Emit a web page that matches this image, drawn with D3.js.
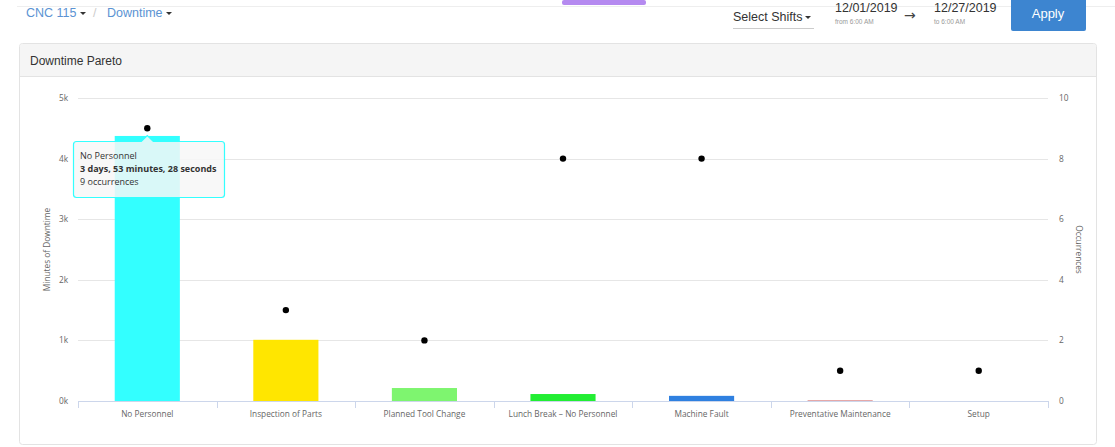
<!DOCTYPE html>
<meta charset="utf-8">
<html>
<head>
    <title>Downtime Pareto</title>
    <style>
        body { margin: 0; background: #fff; font-family: Roboto, "Liberation Sans", sans-serif; }
        svg { display: block; }
        svg text { font-family: "Open Sans", "DejaVu Sans", sans-serif; }
        .hdr { font-family: "Liberation Sans", Roboto, sans-serif !important; }
    </style>
    <script src="https://d3js.org/d3.v7.min.js"></script>
</head>
<body>
    <div id="chart-container"></div>
    <script>
        // chart data
        const categories = ["No Personnel", "Inspection of Parts", "Planned Tool Change",
            "Lunch Break \u2013 No Personnel", "Machine Fault", "Preventative Maintenance", "Setup"];
        const minutes = [4373.5, 1010, 214, 115, 85, 15, 0];
        const occurrences = [9, 3, 2, 8, 8, 1, 1];
        const barColors = ["#33ffff", "#ffe600", "#7ef56f", "#22ee33", "#2f80e0", "#e3a0a0", "#cccccc"];
        const leftTicks = [0, 1000, 2000, 3000, 4000, 5000];
        const rightTicks = [0, 2, 4, 6, 8, 10];

        const W = 1115, H = 447;
        const svg = d3.select("#chart-container").append("svg")
            .attr("width", W).attr("height", H);

        // ---- page header bits ----
        svg.append("line").attr("x1", 17).attr("x2", W).attr("y1", 6.5).attr("y2", 6.5)
            .attr("stroke", "#eeeeee");
        svg.append("rect").attr("x", 562).attr("y", 0).attr("width", 84).attr("height", 5)
            .attr("rx", 2).attr("fill", "#b58af0");

        function hdrText(x, y, size, color, txt) {
            return svg.append("text").attr("class", "hdr").attr("x", x).attr("y", y)
                .attr("fill", color).style("font-size", size + "px").text(txt);
        }
        function caret(x, y) {
            svg.append("path").attr("d", "M" + x + "," + y + " l6,0 l-3,3 z").attr("fill", "#333");
        }

        hdrText(26, 17, 12.5, "#5b93d3", "CNC 115");
        caret(80, 12);
        hdrText(93, 17, 12.5, "#cccccc", "/");
        hdrText(107, 17, 12.5, "#5b93d3", "Downtime");
        caret(166, 12);

        hdrText(733, 21, 12.5, "#333", "Select Shifts");
        caret(805, 16);
        svg.append("line").attr("x1", 733).attr("x2", 814).attr("y1", 28.5).attr("y2", 28.5)
            .attr("stroke", "#cccccc");

        hdrText(835, 12, 12.5, "#333", "12/01/2019");
        hdrText(835, 24, 6.5, "#999", "from 6:00 AM");
        svg.append("text").attr("x", 904).attr("y", 20).attr("fill", "#444")
            .style("font-family", "DejaVu Sans, sans-serif").style("font-size", "14px").text("\u2192");
        hdrText(934, 12, 12.5, "#333", "12/27/2019");
        hdrText(934, 24, 6.5, "#999", "to 6:00 AM");

        svg.append("rect").attr("x", 1011).attr("y", -4).attr("width", 75).attr("height", 35)
            .attr("rx", 2).attr("fill", "#3d85d0");
        hdrText(1048, 18, 13, "#fff", "Apply").attr("text-anchor", "middle");

        // ---- card ----
        svg.append("rect").attr("x", 19.5).attr("y", 43.5).attr("width", 1077).attr("height", 401)
            .attr("rx", 3).attr("fill", "#fff").attr("stroke", "#e3e3e3");
        svg.append("path").attr("d", "M20,76 V47 Q20,44 23,44 H1093 Q1096,44 1096,47 V76 Z")
            .attr("fill", "#f5f5f5");
        svg.append("line").attr("x1", 20).attr("x2", 1096).attr("y1", 76.5).attr("y2", 76.5)
            .attr("stroke", "#e3e3e3");
        hdrText(30, 65, 12, "#333", "Downtime Pareto");

        // ---- chart ----
        const plot = { left: 78, right: 1048, top: 98, bottom: 401 };

        const x = d3.scaleBand().domain(categories)
            .range([plot.left, plot.right]).paddingInner(0.53).paddingOuter(0.265);
        const xBand = d3.scaleBand().domain(categories).range([plot.left, plot.right]);
        const yLeft = d3.scaleLinear().domain([0, 5000]).range([plot.bottom, plot.top]);
        const yRight = d3.scaleLinear().domain([0, 10]).range([plot.bottom, plot.top]);

        const g = svg.append("g").style("font-size", "8.3px");

        // gridlines
        g.append("g").selectAll("line").data(leftTicks).enter().append("line")
            .attr("x1", plot.left).attr("x2", plot.right)
            .attr("y1", d => Math.round(yLeft(d)) + 0.5).attr("y2", d => Math.round(yLeft(d)) + 0.5)
            .attr("stroke", "#e6e6e6");

        // left axis labels
        g.append("g").selectAll("text").data(leftTicks).enter().append("text")
            .attr("x", 68).attr("y", d => yLeft(d) + 3)
            .attr("text-anchor", "end").attr("fill", "#666")
            .text(d => (d / 1000) + "k");

        // right axis labels
        g.append("g").selectAll("text").data(rightTicks).enter().append("text")
            .attr("x", 1059).attr("y", d => yRight(d) + 3)
            .attr("text-anchor", "start").attr("fill", "#666")
            .text(d => d);

        // axis titles
        g.append("text").attr("transform", "translate(50," + ((plot.top + plot.bottom) / 2) + ") rotate(-90)")
            .attr("text-anchor", "middle").attr("fill", "#666").text("Minutes of Downtime");
        g.append("text").attr("transform", "translate(1076," + ((plot.top + plot.bottom) / 2) + ") rotate(90)")
            .attr("text-anchor", "middle").attr("fill", "#666").text("Occurrences");

        // bars
        g.append("g").selectAll("rect").data(categories).enter().append("rect")
            .attr("x", d => x(d)).attr("width", x.bandwidth())
            .attr("y", (d, i) => yLeft(minutes[i]))
            .attr("height", (d, i) => plot.bottom - yLeft(minutes[i]))
            .attr("fill", (d, i) => barColors[i]);

        // x axis line + ticks
        g.append("line").attr("x1", plot.left).attr("x2", plot.right)
            .attr("y1", plot.bottom + 0.5).attr("y2", plot.bottom + 0.5).attr("stroke", "#ccd6eb");
        const tickPos = categories.map(c => xBand(c)).concat([plot.right]);
        g.append("g").selectAll("line").data(tickPos).enter().append("line")
            .attr("x1", d => Math.round(d) + 0.5).attr("x2", d => Math.round(d) + 0.5)
            .attr("y1", plot.bottom).attr("y2", plot.bottom + 7).attr("stroke", "#ccd6eb");

        // category labels
        g.append("g").selectAll("text").data(categories).enter().append("text")
            .attr("x", d => x(d) + x.bandwidth() / 2).attr("y", 417)
            .attr("text-anchor", "middle").attr("fill", "#666")
            .text(d => d);

        // occurrence dots
        g.append("g").selectAll("circle").data(categories).enter().append("circle")
            .attr("cx", d => x(d) + x.bandwidth() / 2)
            .attr("cy", (d, i) => yRight(occurrences[i]))
            .attr("r", 3.2).attr("fill", "#000");

        // tooltip for first category
        const tipCat = categories[0];
        const tx = x(tipCat) + x.bandwidth() / 2;
        const tip = svg.append("g");
        tip.append("path")
            .attr("d", "M73.5,144.5 Q73.5,141.5 76.5,141.5 H" + (tx - 6) + " L" + tx + ",135.5 L" + (tx + 6) +
                ",141.5 H221.5 Q224.5,141.5 224.5,144.5 V194.5 Q224.5,197.5 221.5,197.5 H76.5 Q73.5,197.5 73.5,194.5 Z")
            .attr("fill", "rgba(247,247,247,0.85)").attr("stroke", barColors[0]).attr("stroke-width", 1.2);
        tip.append("text").attr("x", 80).attr("y", 159).attr("fill", "#333")
            .style("font-size", "9px").text(tipCat);
        tip.append("text").attr("x", 80).attr("y", 172).attr("fill", "#333")
            .style("font-size", "9px").style("font-weight", "bold").text("3 days, 53 minutes, 28 seconds");
        tip.append("text").attr("x", 80).attr("y", 185).attr("fill", "#333")
            .style("font-size", "9px").text(occurrences[0] + " occurrences");
    </script>
</body>
</html>
